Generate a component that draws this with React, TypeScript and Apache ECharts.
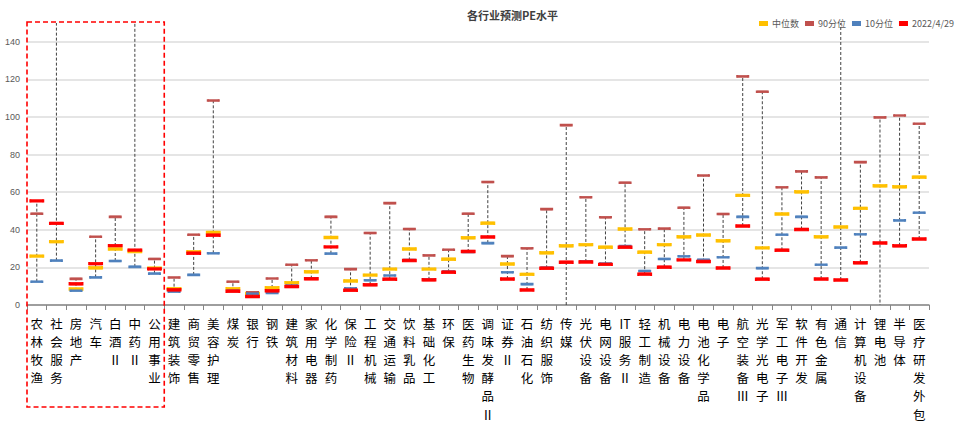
import React, { useEffect, useRef } from "react";
import * as echarts from "echarts";

const categories = [
  "农林牧渔", "社会服务", "房地产", "汽车", "白酒Ⅱ", "中药Ⅱ", "公用事业",
  "建筑装饰", "商贸零售", "美容护理", "煤炭", "银行", "钢铁", "建筑材料",
  "家用电器", "化学制药", "保险Ⅱ", "工程机械", "交通运输", "饮料乳品", "基础化工",
  "环保", "医药生物", "调味发酵品Ⅱ", "证券Ⅱ", "石油石化", "纺织服饰", "传媒",
  "光伏设备", "电网设备", "IT服务Ⅱ", "轻工制造", "机械设备", "电力设备", "电池化学品",
  "电子", "航空装备Ⅲ", "光学光电子", "军工电子Ⅲ", "软件开发", "有色金属", "通信",
  "计算机设备", "锂电池", "半导体", "医疗研发外包",
];

const median = [
  26, 33.7, 8.5, 19.8, 29.8, 28.5, 19.5, 8.7, 28.3, 38.6, 8.7, 6.2, 9.2, 11.9,
  17.7, 35.9, 12.8, 15.9, 19.1, 29.8, 19.1, 24.3, 35.8, 43.5, 21.8, 16.3, 27.8, 31.5,
  32.1, 30.7, 40.4, 28.1, 32.1, 36.3, 37.2, 34.2, 58.3, 30.4, 48.4, 60.2, 36.3, 41.5,
  51.4, 63.4, 62.9, 68,
];

const p90 = [
  48.5, 175, 13.9, 36.3, 46.9, 190, 24.5, 14.6, 37.4, 108.8, 12.4, 6.8, 14.1, 21.4,
  23.8, 46.9, 19.1, 38.3, 54.2, 40.4, 26.4, 29.4, 48.5, 65.4, 26, 30.2, 51, 95.7,
  57.3, 46.7, 65, 40.3, 40.6, 51.7, 68.9, 48.4, 121.6, 113.4, 62.6, 71.1, 67.9, 165,
  76, 99.8, 100.8, 96.4,
];

const p10 = [
  12.4, 23.6, 7.6, 14.7, 23.4, 20.3, 16.7, 7.1, 16, 27.5, 7.5, 6, 6.4, 10.3,
  14.2, 27.3, 8.9, 13.2, 15.7, 23.9, 13.5, 17.8, 28.2, 32.9, 17.4, 11.1, 19.8, -8,
  23.2, 22, 31.3, 18.1, 24.5, 25.9, 24, 25.4, 46.9, 19.6, 37.4, 46.9, 21.4, 30.5,
  37.6, -12, 45, 49.1,
];

const current = [
  55.4, 43.4, 11.3, 22, 31.6, 29.2, 19.2, 8.1, 27.5, 37.1, 7.3, 4.5, 7.6, 9.8,
  14, 30.9, 7.8, 10.8, 13.7, 23.7, 13.4, 17.4, 28.5, 36.2, 13.8, 8, 19.5, 22.7,
  22.9, 21.6, 30.7, 16.4, 20.1, 24, 23.1, 19.7, 42, 13.7, 29.1, 40.2, 13.8, 13.3,
  22.5, 33, 31.5, 35.1,
];

const seriesNames = ["中位数", "90分位", "10分位", "2022/4/29"];
const highlightCount = 7; // first group framed by dashed box

const CJK = "'Noto Sans CJK SC', 'Noto Sans', sans-serif";
const LINE_H = 18.2;

export default function App() {
  const ref = useRef<HTMLDivElement>(null);
  useEffect(() => {
    if (!ref.current) return;
    const chart = echarts.init(ref.current, undefined, { renderer: "svg" });
    const ranges = categories.map((_, i) => {
      const vals = [median[i], p90[i], p10[i], current[i]];
      return [i, Math.min(...vals), Math.max(...vals)];
    });
    // vertical labels: one stacked category axis per character row
    const parts = categories.map((c) => c.match(/[A-Za-z]+|./gu) || []);
    const rows = Math.max(...parts.map((p) => p.length));
    const xAxes = Array.from({ length: rows }, (_, k) => ({
      type: "category",
      data: categories,
      gridIndex: 0,
      position: "bottom",
      offset: 0,
      boundaryGap: true,
      axisLine: { show: k === 0, lineStyle: { color: "#868686", width: 1.5 } },
      axisTick: { show: k === 0, length: 5, lineStyle: { color: "#868686", width: 1 } },
      axisPointer: { show: false },
      splitLine: { show: false },
      axisLabel: {
        interval: 0,
        margin: 9 + k * LINE_H,
        color: "#000000",
        fontSize: 12.5,
        lineHeight: LINE_H,
        fontFamily: CJK,
        verticalAlign: "top",
        formatter: (_v: string, idx: number) => parts[idx][k] || "",
      },
    }));
    const mk = (name: string, data: number[], color: string, size: number[], z: number) => ({
      name,
      type: "scatter",
      xAxisIndex: 0,
      data,
      symbol: "rect",
      symbolSize: size,
      clip: true,
      z,
      itemStyle: {
        color,
        borderColor: color,
        borderWidth: 0.9,
        opacity: 1,
      },
      emphasis: { disabled: true },
    });
    chart.setOption({
      animation: false,
      backgroundColor: "#ffffff",
      title: {
        text: "各行业预测PE水平",
        left: 467,
        top: 9,
        padding: 0,
        textStyle: { fontSize: 11, fontWeight: "bold", color: "#404040", fontFamily: CJK },
      },
      legend: {
        data: seriesNames.map((n) => ({ name: n, icon: "rect" })),
        right: 15,
        top: 14,
        itemWidth: 7,
        itemHeight: 3,
        itemGap: 6,
        selectedMode: false,
        textStyle: { fontSize: 9, color: "#595959", fontFamily: CJK },
      },
      grid: { left: 27, right: 45, top: 23, bottom: 130 },
      xAxis: xAxes,
      yAxis: {
        type: "value",
        min: 0,
        max: 150,
        interval: 20,
        axisLine: { show: false },
        axisTick: { show: false },
        axisLabel: { color: "#595959", fontSize: 9, margin: 7, showMaxLabel: false },
        splitLine: { show: true, showMaxLine: false, lineStyle: { color: "#dcdcdc", width: 1.5 } },
      },
      series: [
        {
          name: "range",
          type: "custom",
          xAxisIndex: 0,
          clip: true,
          z: 1,
          silent: true,
          data: ranges,
          renderItem: (params: any, api: any) => {
            const i = api.value(0);
            const a = api.coord([i, api.value(1)]);
            const b = api.coord([i, api.value(2)]);
            return {
              type: "line",
              shape: { x1: a[0], y1: a[1], x2: b[0], y2: b[1] },
              style: { stroke: "#404040", lineWidth: 1, lineDash: [3, 2] },
            };
          },
        },
        mk("中位数", median, "#FFC000", [13, 3], 2),
        mk("90分位", p90, "#C0504D", [11, 2.2], 3),
        mk("10分位", p10, "#4F81BD", [11, 2.2], 4),
        mk("2022/4/29", current, "#FF0000", [13, 3], 5),
      ],
    });
    const c0 = chart.convertToPixel({ xAxisIndex: 0 }, categories[0]) as number;
    const c1 = chart.convertToPixel({ xAxisIndex: 0 }, categories[1]) as number;
    const band = c1 - c0;
    const x0 = c0 - band / 2;
    const x1 = c0 + band * (highlightCount - 0.5);
    chart.setOption({
      graphic: [
        {
          type: "rect",
          silent: true,
          z: 100,
          shape: { x: x0, y: 22, width: x1 - x0, height: 407 - 22 },
          style: { fill: "none", stroke: "#FF0000", lineWidth: 1.6, lineDash: [5, 3] },
        },
      ],
    });
    return () => chart.dispose();
  }, []);
  return (
    <div
      ref={ref}
      style={{ position: "fixed", left: 0, top: 0, width: 974, height: 435, background: "#fff" }}
    />
  );
}
